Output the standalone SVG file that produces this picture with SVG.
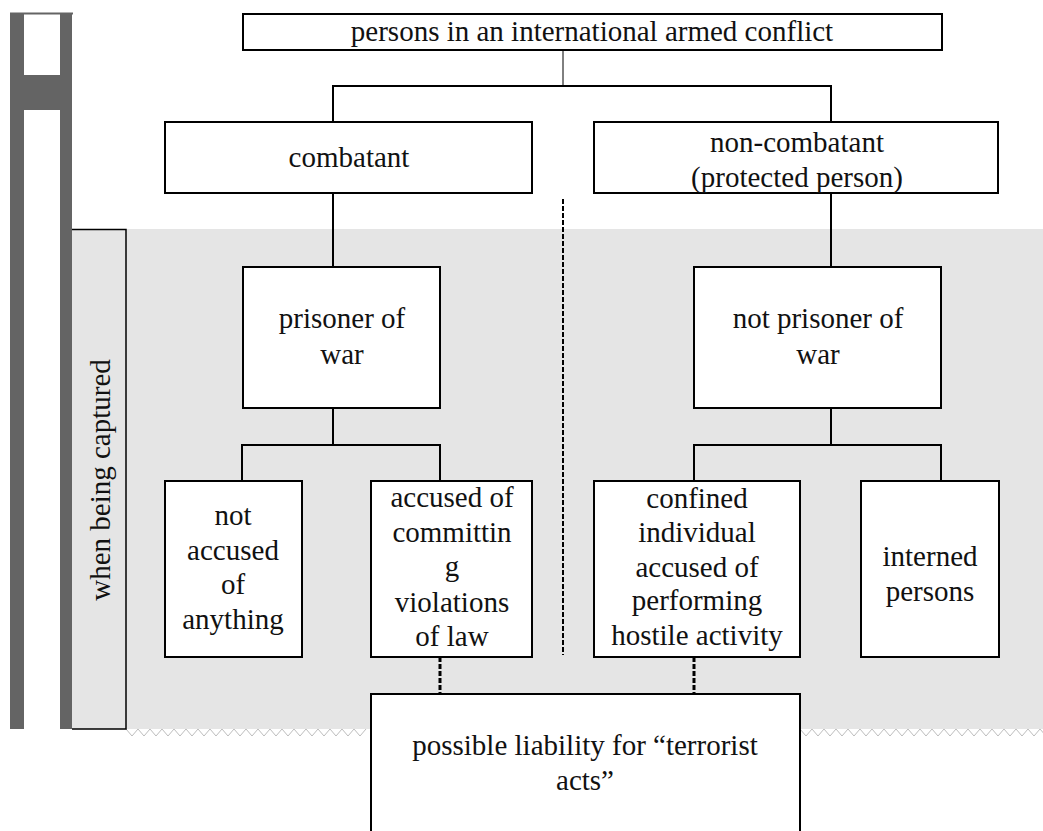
<svg xmlns="http://www.w3.org/2000/svg" width="1043" height="831" viewBox="0 0 1043 831">
<style>
.box{fill:#fff;stroke:#000;stroke-width:2}
.t{font-family:"Liberation Serif","Times New Roman",serif;font-size:29px;fill:#111;text-anchor:middle}
.c{fill:none;stroke:#000;stroke-width:2}
.dash{fill:none;stroke:#000;stroke-width:2;stroke-dasharray:5 2}
.dashb{fill:none;stroke:#000;stroke-width:3;stroke-dasharray:5 2}
.bar{fill:#646464}
.zig{fill:none;stroke:#bdbdbd;stroke-width:1}
</style>
<rect width="1043" height="831" fill="#fff"/>
<g id="background">
  <rect class="bar" x="10" y="13" width="14" height="716"/>
  <rect class="bar" x="60" y="13" width="12" height="716"/>
  <rect class="bar" x="10" y="75" width="62" height="35"/>
  <line x1="10" y1="13.5" x2="73" y2="13.5" stroke="#646464" stroke-width="2"/>
  <rect x="72" y="229" width="971" height="500" fill="#e5e5e5"/>
  <path d="M126 729 l6 7 l6 -7 l6 7 l6 -7 l6 7 l6 -7 l6 7 l6 -7 l6 7 l6 -7 l6 7 l6 -7 l6 7 l6 -7 l6 7 l6 -7 l6 7 l6 -7 l6 7 l6 -7 l6 7 l6 -7 l6 7 l6 -7 l6 7 l6 -7 l6 7 l6 -7 l6 7 l6 -7 l6 7 l6 -7 l6 7 l6 -7 l6 7 l6 -7 l6 7 l6 -7 l6 7 l6 -7" class="zig"/>
  <path d="M800 729 l6 7 l6 -7 l6 7 l6 -7 l6 7 l6 -7 l6 7 l6 -7 l6 7 l6 -7 l6 7 l6 -7 l6 7 l6 -7 l6 7 l6 -7 l6 7 l6 -7 l6 7 l6 -7 l6 7 l6 -7 l6 7 l6 -7 l6 7 l6 -7 l6 7 l6 -7 l6 7 l6 -7 l6 7 l6 -7 l6 7 l6 -7 l6 7 l6 -7 l6 7 l6 -7 l6 7 l6 -7 l6 7" class="zig"/>
</g>
<g id="label-when-captured">
  <path d="M72 229.5 H126 V729 H72" fill="none" stroke="#000" stroke-width="1.5"/>
  <text class="t" transform="translate(110,480) rotate(-90)">when being captured</text>
</g>
<g id="connectors">
  <line x1="563" y1="50" x2="563" y2="86" stroke="#000" stroke-width="1"/>
  <path class="c" d="M333 122 V86 H831 V122"/>
  <line class="c" x1="333" y1="193" x2="333" y2="267"/>
  <line class="c" x1="831" y1="193" x2="831" y2="267"/>
  <line class="c" x1="333" y1="408" x2="333" y2="445"/>
  <path class="c" d="M242 481 V445 H440 V481"/>
  <line class="c" x1="831" y1="408" x2="831" y2="445"/>
  <path class="c" d="M694 481 V445 H941 V481"/>
  <line class="dash" x1="563" y1="199" x2="563" y2="655"/>
  <line class="dashb" x1="440" y1="657" x2="440" y2="693"/>
  <line class="dashb" x1="694" y1="657" x2="694" y2="693"/>
</g>
<g id="n-persons">
  <rect class="box" x="243" y="14" width="699" height="36"/>
  <text class="t" x="592" y="41">persons in an international armed conflict</text>
</g>
<g id="n-combatant">
  <rect class="box" x="165" y="122" width="367" height="71"/>
  <text class="t" x="349" y="167">combatant</text>
</g>
<g id="n-noncombatant">
  <rect class="box" x="594" y="122" width="404" height="71"/>
  <text class="t" x="797" y="152">non-combatant</text>
  <text class="t" x="797" y="187">(protected person)</text>
</g>
<g id="n-pow">
  <rect class="box" x="243" y="267" width="197" height="141"/>
  <text class="t" x="342" y="328">prisoner of</text>
  <text class="t" x="342" y="364">war</text>
</g>
<g id="n-notpow">
  <rect class="box" x="694" y="267" width="247" height="141"/>
  <text class="t" x="818" y="328">not prisoner of</text>
  <text class="t" x="818" y="364">war</text>
</g>
<g id="n-notaccused">
  <rect class="box" x="165" y="481" width="137" height="176"/>
  <text class="t" x="233" y="525">not</text>
  <text class="t" x="233" y="560">accused</text>
  <text class="t" x="233" y="594">of</text>
  <text class="t" x="233" y="629">anything</text>
</g>
<g id="n-accused">
  <rect class="box" x="371" y="481" width="161" height="176"/>
  <text class="t" x="452" y="507">accused of</text>
  <text class="t" x="452" y="542">committin</text>
  <text class="t" x="452" y="576">g</text>
  <text class="t" x="452" y="612">violations</text>
  <text class="t" x="452" y="646">of law</text>
</g>
<g id="n-confined">
  <rect class="box" x="594" y="481" width="206" height="176"/>
  <text class="t" x="697" y="508">confined</text>
  <text class="t" x="697" y="542">individual</text>
  <text class="t" x="697" y="577">accused of</text>
  <text class="t" x="697" y="610">performing</text>
  <text class="t" x="697" y="645">hostile activity</text>
</g>
<g id="n-interned">
  <rect class="box" x="861" y="481" width="138" height="176"/>
  <text class="t" x="930" y="566">interned</text>
  <text class="t" x="930" y="601">persons</text>
</g>
<g id="n-liability">
  <rect class="box" x="371" y="694" width="429" height="145"/>
  <text class="t" x="585" y="755">possible liability for “terrorist</text>
  <text class="t" x="585" y="790">acts”</text>
</g>
</svg>
